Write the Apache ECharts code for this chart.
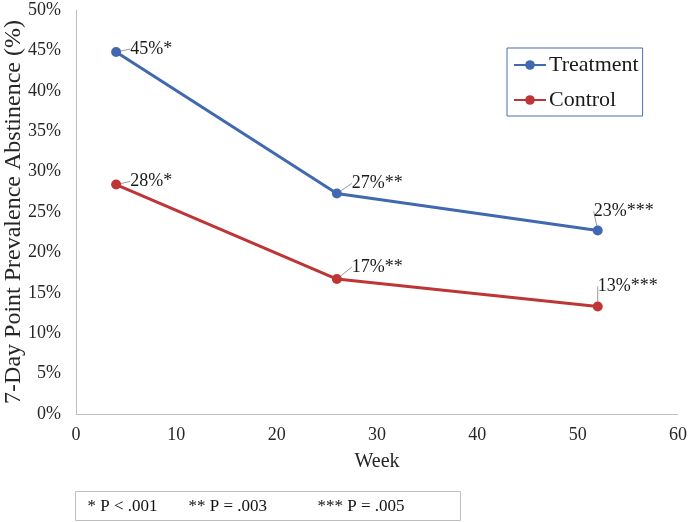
<!DOCTYPE html>
<html>
<head>
<meta charset="utf-8">
<script src="https://cdn.jsdelivr.net/npm/echarts@6/dist/echarts.min.js"></script>
<style>html,body{margin:0;padding:0;background:#fff;}#c{width:688px;height:522px;}</style>
</head>
<body>
<div id="c"></div>
<script>
// ---- data ----
var weeks = [4, 26, 52];
var treatment = [44.8, 27.3, 22.7];
var control = [28.4, 16.7, 13.3];
var stars = ['*', '**', '***'];
var seriesNames = ['Treatment', 'Control'];
var xTicks = { min: 0, max: 60, interval: 10 };
var yTicks = { min: 0, max: 50, interval: 5 };
var footnotes = ['* P < .001', '** P = .003', '*** P = .005'];
var xTitle = 'Week';
var yTitle = '7-Day Point Prevalence Abstinence (%)';

// ---- label offsets (layout only) ----
var labelOffsets = [
  [[4, -3], [5, -10], [-14, -19]],
  [[4, -3], [5, -12], [-10, -20]]
];

var SERIF = '"Liberation Serif", "Times New Roman", serif';
var colors = ['#4169B0', '#BE3535'];

function pairs(vals) { return weeks.map(function (w, i) { return [w, vals[i]]; }); }

function mkSeries(idx, vals) {
  return {
    name: seriesNames[idx],
    type: 'line',
    data: pairs(vals),
    symbol: 'circle',
    symbolSize: 10,
    lineStyle: { width: 3, color: colors[idx] },
    itemStyle: { color: colors[idx] },
    label: {
      show: true,
      position: 'right',
      fontFamily: SERIF,
      fontSize: 18,
      color: '#1a1a1a',
      formatter: function (p) { return Math.round(p.value[1]) + '%' + stars[p.dataIndex]; }
    },
    labelLine: { show: true, lineStyle: { color: '#999', width: 1 } },
    labelLayout: function (p) {
      var o = labelOffsets[idx][p.dataIndex];
      return { dx: o[0], dy: o[1] };
    },
    emphasis: { disabled: true },
    animation: false
  };
}

var footX = [12, 113, 242];
var chart = echarts.init(document.getElementById('c'), null, { renderer: 'canvas' });
chart.setOption({
  animation: false,
  color: colors,
  grid: { left: 76, right: 10, top: 10, bottom: 108, containLabel: false, outerBoundsMode: 'none' },
  xAxis: {
    type: 'value',
    min: xTicks.min, max: xTicks.max, interval: xTicks.interval,
    name: xTitle,
    nameLocation: 'middle',
    nameGap: 38,
    nameMoveOverlap: false,
    nameTextStyle: { fontFamily: SERIF, fontSize: 20, color: '#262626' },
    axisLine: { show: true, lineStyle: { color: '#bfbfbf', width: 1 } },
    axisTick: { show: false },
    splitLine: { show: false },
    axisLabel: { fontFamily: SERIF, fontSize: 18, color: '#262626', margin: 12 }
  },
  yAxis: {
    type: 'value',
    min: yTicks.min, max: yTicks.max, interval: yTicks.interval,
    name: yTitle,
    nameLocation: 'middle',
    nameGap: 50,
    nameRotate: 90,
    nameMoveOverlap: false,
    nameTextStyle: { fontFamily: SERIF, fontSize: 24, color: '#262626' },
    axisLine: { show: true, lineStyle: { color: '#bfbfbf', width: 1 } },
    axisTick: { show: false },
    splitLine: { show: false },
    axisLabel: { fontFamily: SERIF, fontSize: 18, color: '#262626', margin: 15, formatter: '{value}%' }
  },
  legend: {
    orient: 'vertical',
    left: 507,
    top: 48,
    padding: [6, 4, 5, 6],
    itemGap: 13,
    itemWidth: 32,
    itemHeight: 12,
    borderColor: '#4A6FAE',
    borderWidth: 1,
    textStyle: { fontFamily: SERIF, fontSize: 22, color: '#1a1a1a', padding: [0, 0, 0, -2] },
    data: seriesNames
  },
  series: [mkSeries(0, treatment), mkSeries(1, control)],
  graphic: [{
    type: 'group',
    left: 75,
    top: 491,
    children: [{
      type: 'rect',
      shape: { x: 0, y: 0, width: 385, height: 29 },
      style: { fill: '#fff', stroke: '#bfbfbf', lineWidth: 1 }
    }].concat(footnotes.map(function (t, i) {
      return {
        type: 'text',
        x: footX[i],
        y: 15,
        style: { text: t, fontFamily: SERIF, fontSize: 17, fill: '#111', textVerticalAlign: 'middle' }
      };
    }))
  }]
});
</script>
</body>
</html>
